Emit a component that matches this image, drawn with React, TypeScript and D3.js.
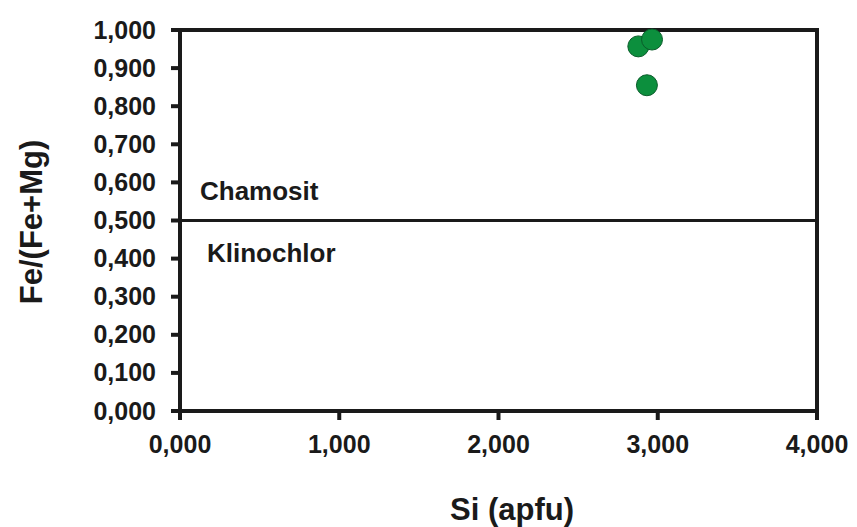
import React from "react";
import * as d3 from "d3";

const siValues = [2878, 2964, 2932];
const feRatio = [0.957, 0.975, 0.855];
const xTicks = [0, 1000, 2000, 3000, 4000];
const yTicks = [0, 0.1, 0.2, 0.3, 0.4, 0.5, 0.6, 0.7, 0.8, 0.9, 1.0];
const fieldLabels = ["Chamosit", "Klinochlor"];
const boundary = 0.5;

const fmt = (v: number, scale: number) =>
  (v / scale).toFixed(3).replace(".", ",");

export default function App() {
  const W = 857, H = 527;
  const x = d3.scaleLinear().domain([0, 4000]).range([180, 817]);
  const y = d3.scaleLinear().domain([0, 1]).range([411, 30]);
  const font = "'Liberation Sans', Arial, sans-serif";
  const ink = "#1a1a1a";
  const pts = siValues.map((s, i) => ({ s, f: feRatio[i] }));
  return (
    <svg width={W} height={H} style={{ position: "absolute", left: 0, top: 0 }} fontFamily={font}>
      <rect width={W} height={H} fill="#fff" />
      {/* frame */}
      <line x1={x(0)} x2={x(4000) + 2} y1={y(1)} y2={y(1)} stroke={ink} strokeWidth={4} />
      <line x1={x(4000)} x2={x(4000)} y1={y(1) - 2} y2={y(0) + 9} stroke={ink} strokeWidth={4} />
      <line x1={x(0)} x2={x(0)} y1={y(1) - 2} y2={y(0) + 9} stroke={ink} strokeWidth={4} />
      <line x1={x(0) - 9} x2={x(4000)} y1={y(0)} y2={y(0)} stroke={ink} strokeWidth={4} />
      {/* boundary */}
      <line x1={x(0) - 9} x2={x(4000)} y1={y(boundary)} y2={y(boundary)} stroke={ink} strokeWidth={3} />
      {yTicks.map((t) => (
        <g key={t}>
          <line x1={x(0) - 9} x2={x(0)} y1={y(t)} y2={y(t)} stroke={ink} strokeWidth={4} />
          <text x={156} y={y(t) + 8.5} textAnchor="end" fontSize={25} fontWeight="bold" fill={ink}>
            {fmt(t, 1)}
          </text>
        </g>
      ))}
      {xTicks.map((t) => (
        <g key={t}>
          <line x1={x(t)} x2={x(t)} y1={y(0)} y2={y(0) + 9} stroke={ink} strokeWidth={4} />
          <text x={x(t)} y={453} textAnchor="middle" fontSize={25} fontWeight="bold" fill={ink}>
            {fmt(t, 1000)}
          </text>
        </g>
      ))}
      <text x={200} y={200} fontSize={26} fontWeight="bold" fill={ink}>{fieldLabels[0]}</text>
      <text x={207} y={262} fontSize={26} fontWeight="bold" fill={ink}>{fieldLabels[1]}</text>
      <text x={512} y={520} textAnchor="middle" fontSize={31} fontWeight="bold" fill={ink}>Si (apfu)</text>
      <text transform={`translate(42,222) rotate(-90)`} textAnchor="middle" fontSize={31} fontWeight="bold" fill={ink}>Fe/(Fe+Mg)</text>
      {pts.map((p, i) => (
        <circle key={i} cx={x(p.s)} cy={y(p.f)} r={10.5} fill="#0c8f3d" stroke="#0a5c2a" strokeWidth={1} />
      ))}
    </svg>
  );
}
